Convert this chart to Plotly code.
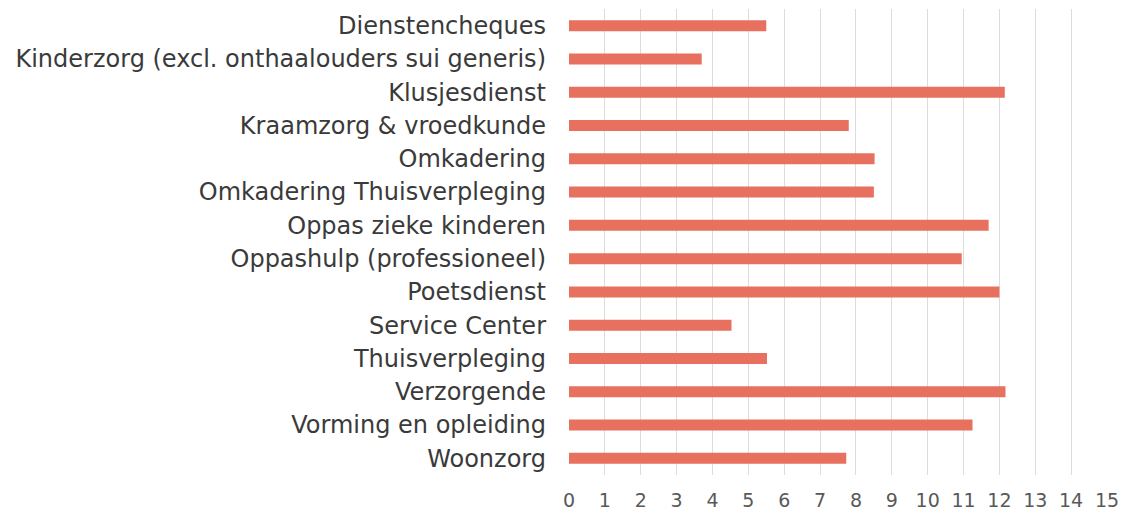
import plotly.graph_objects as go

categories = [
    "Dienstencheques",
    "Kinderzorg (excl. onthaalouders sui generis)",
    "Klusjesdienst",
    "Kraamzorg & vroedkunde",
    "Omkadering",
    "Omkadering Thuisverpleging",
    "Oppas zieke kinderen",
    "Oppashulp (professioneel)",
    "Poetsdienst",
    "Service Center",
    "Thuisverpleging",
    "Verzorgende",
    "Vorming en opleiding",
    "Woonzorg",
]
values = [5.5, 3.7, 12.15, 7.8, 8.52, 8.5, 11.7, 10.95, 12.0, 4.53, 5.52, 12.17, 11.25, 7.73]
tick_vals = list(range(0, 16))

fig = go.Figure(
    go.Bar(
        x=values,
        y=categories,
        orientation="h",
        marker=dict(color="#E8705F", line=dict(width=0)),
        width=0.33,
    )
)

fig.update_layout(
    width=1124,
    height=511,
    margin=dict(l=569, r=17, t=9, b=36),
    paper_bgcolor="white",
    plot_bgcolor="white",
    showlegend=False,
    font=dict(family="DejaVu Sans, Verdana, sans-serif", color="#404040"),
)
fig.update_xaxes(
    range=[0, 15],
    tickvals=tick_vals,
    showgrid=True,
    gridcolor="#DCDCDC",
    gridwidth=1,
    zeroline=False,
    showline=False,
    tickfont=dict(size=19, color="#595959"),
    ticklabelstandoff=12,
    automargin=False,
)
fig.update_yaxes(
    autorange="reversed",
    showgrid=False,
    showline=False,
    tickfont=dict(size=24, color="#3A3A3A"),
    ticklabelstandoff=22,
    automargin=False,
)

fig.write_html(
    "out.html",
    config={"displayModeBar": False},
    post_script="document.body.style.margin='0';document.body.style.overflow='hidden';",
)
